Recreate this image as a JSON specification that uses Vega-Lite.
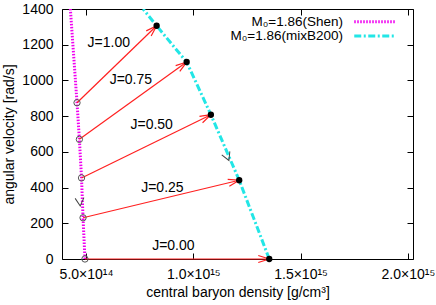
{
  "$schema": "https://vega.github.io/schema/vega-lite/v6.json",
  "width": 351,
  "height": 250,
  "autosize": {"type": "none"},
  "padding": {"left": 62, "top": 9, "right": 23, "bottom": 46},
  "config": {
    "font": "Liberation Sans",
    "view": {"stroke": "black", "strokeWidth": 1},
    "axis": {
      "labelFont": "Liberation Sans", "titleFont": "Liberation Sans",
      "labelFontSize": 14, "titleFontSize": 14, "titleFontWeight": "normal",
      "labelColor": "black", "titleColor": "black", "tickColor": "black",
      "domain": false, "grid": false, "tickSize": -6, "tickWidth": 1
    }
  },
  "datasets": {
    "curves": [
      {"series": "Shen", "o": 0, "x": 4.95e14, "y": 0},
      {"series": "Shen", "o": 1, "x": 4.86e14, "y": 231},
      {"series": "Shen", "o": 2, "x": 4.79e14, "y": 454},
      {"series": "Shen", "o": 3, "x": 4.69e14, "y": 670},
      {"series": "Shen", "o": 4, "x": 4.58e14, "y": 875},
      {"series": "Shen", "o": 5, "x": 4.27e14, "y": 1400},
      {"series": "mixB200", "o": 0, "x": 1.354e15, "y": 0},
      {"series": "mixB200", "o": 1, "x": 1.214e15, "y": 441},
      {"series": "mixB200", "o": 2, "x": 1.082e15, "y": 808},
      {"series": "mixB200", "o": 3, "x": 9.69e14, "y": 1103},
      {"series": "mixB200", "o": 4, "x": 8.29e14, "y": 1306},
      {"series": "mixB200", "o": 5, "x": 7.66e14, "y": 1400}
    ],
    "arrows": [
      {"J": "1.00", "x": 4.58e14, "y": 875, "x2": 8.29e14, "y2": 1306},
      {"J": "0.75", "x": 4.69e14, "y": 670, "x2": 9.69e14, "y2": 1103},
      {"J": "0.50", "x": 4.79e14, "y": 454, "x2": 1.082e15, "y2": 808},
      {"J": "0.25", "x": 4.86e14, "y": 231, "x2": 1.214e15, "y2": 441},
      {"J": "0.00", "x": 4.95e14, "y": 0, "x2": 1.354e15, "y2": 0}
    ],
    "labels": [
      {"text": "J=1.00", "x": 6.06e14, "y": 1210},
      {"text": "J=0.75", "x": 7.09e14, "y": 1002},
      {"text": "J=0.50", "x": 8.06e14, "y": 750},
      {"text": "J=0.25", "x": 8.56e14, "y": 396},
      {"text": "J=0.00", "x": 9.07e14, "y": 75}
    ],
    "chevrons": [
      {"series": "Shen", "x": 4.73e14, "y": 297},
      {"series": "mixB200", "x": 1.166e15, "y": 552}
    ],
    "legend": [
      {"series": "Shen", "label": "M₀=1.86(Shen)", "tx": 1.6975e15, "x": 1.7502e15, "x2": 1.941e15, "y": 1329},
      {"series": "mixB200", "label": "M₀=1.86(mixB200)", "tx": 1.6975e15, "x": 1.7502e15, "x2": 1.941e15, "y": 1249}
    ]
  },
  "layer": [
    {
      "data": {"name": "curves"},
      "mark": {"type": "line", "strokeWidth": 3, "clip": true},
      "encoding": {
        "x": {"field": "x", "type": "quantitative",
          "scale": {"domain": [3.88e14, 2.024e15], "nice": false, "zero": false},
          "axis": {"orient": "bottom", "title": "central baryon density [g/cm³]", "values": [5e14, 1e15, 1.5e15, 2e15],
            "labelExpr": "datum.value < 7e14 ? '5.0×10¹⁴' : datum.value < 1.2e15 ? '1.0×10¹⁵' : datum.value < 1.7e15 ? '1.5×10¹⁵' : '2.0×10¹⁵'",
            "labelPadding": 14, "titlePadding": 4, "labelFlush": false}},
        "y": {"field": "y", "type": "quantitative",
          "scale": {"domain": [0, 1400], "nice": false},
          "axis": {"orient": "left", "title": "angular velocity [rad/s]", "values": [0, 200, 400, 600, 800, 1000, 1200, 1400],
            "format": "d", "labelPadding": 15, "titlePadding": 5}},
        "color": {"field": "series", "type": "nominal", "scale": {"domain": ["Shen", "mixB200"], "range": ["#f000f0", "#22e6e6"]}, "legend": null},
        "strokeDash": {"field": "series", "type": "nominal", "scale": {"domain": ["Shen", "mixB200"], "range": [[1.5, 1.5], [7, 2.5, 2, 2.5]]}, "legend": null},
        "order": {"field": "o", "type": "quantitative"}
      }
    },
    {
      "data": {"name": "arrows"},
      "mark": {"type": "rule", "color": "#ff2020", "strokeWidth": 1.2},
      "encoding": {
        "x": {"field": "x", "type": "quantitative", "scale": {"domain": [3.88e14, 2.024e15], "nice": false, "zero": false}, "axis": null},
        "y": {"field": "y", "type": "quantitative", "scale": {"domain": [0, 1400], "nice": false}, "axis": null},
        "x2": {"field": "x2"},
        "y2": {"field": "y2"}
      }
    },
    {
      "data": {"name": "arrows"},
      "transform": [
        {"calculate": "-atan2((datum.y2 - datum.y) * 250 / 1400, (datum.x2 - datum.x) * 351 / 1.636e15) * 180 / PI", "as": "ang"}
      ],
      "mark": {"type": "point", "shape": "M -1 -0.32 L 0 0 L -1 0.32", "filled": false, "stroke": "#ff2020", "strokeWidth": 1.2, "size": 484, "opacity": 1},
      "encoding": {
        "x": {"field": "x2", "type": "quantitative", "scale": {"domain": [3.88e14, 2.024e15], "nice": false, "zero": false}, "axis": null},
        "y": {"field": "y2", "type": "quantitative", "scale": {"domain": [0, 1400], "nice": false}, "axis": null},
        "angle": {"field": "ang", "type": "quantitative", "scale": null}
      }
    },
    {
      "data": {"name": "arrows"},
      "mark": {"type": "point", "filled": false, "stroke": "#555555", "strokeWidth": 1, "size": 40, "opacity": 1},
      "encoding": {
        "x": {"field": "x", "type": "quantitative", "scale": {"domain": [3.88e14, 2.024e15], "nice": false, "zero": false},
          "axis": {"orient": "top", "labels": false, "title": null, "values": [5e14, 1e15, 1.5e15, 2e15]}},
        "y": {"field": "y", "type": "quantitative", "scale": {"domain": [0, 1400], "nice": false},
          "axis": {"orient": "right", "labels": false, "title": null, "values": [0, 200, 400, 600, 800, 1000, 1200, 1400]}}
      }
    },
    {
      "data": {"name": "arrows"},
      "mark": {"type": "point", "filled": true, "color": "black", "size": 40, "opacity": 1},
      "encoding": {
        "x": {"field": "x2", "type": "quantitative", "scale": {"domain": [3.88e14, 2.024e15], "nice": false, "zero": false}, "axis": null},
        "y": {"field": "y2", "type": "quantitative", "scale": {"domain": [0, 1400], "nice": false}, "axis": null}
      }
    },
    {
      "data": {"name": "chevrons"},
      "transform": [{"filter": "datum.series == 'Shen'"}],
      "mark": {"type": "point", "shape": "M -0.55 -1 L 0 0 L 0.55 -1", "filled": false, "stroke": "#444444", "strokeWidth": 1, "size": 256, "angle": -5, "opacity": 1},
      "encoding": {
        "x": {"field": "x", "type": "quantitative", "scale": {"domain": [3.88e14, 2.024e15], "nice": false, "zero": false}, "axis": null},
        "y": {"field": "y", "type": "quantitative", "scale": {"domain": [0, 1400], "nice": false}, "axis": null}
      }
    },
    {
      "data": {"name": "chevrons"},
      "transform": [{"filter": "datum.series == 'mixB200'"}],
      "mark": {"type": "point", "shape": "M -0.55 -1 L 0 0 L 0.55 -1", "filled": false, "stroke": "#444444", "strokeWidth": 1, "size": 256, "angle": -23, "opacity": 1},
      "encoding": {
        "x": {"field": "x", "type": "quantitative", "scale": {"domain": [3.88e14, 2.024e15], "nice": false, "zero": false}, "axis": null},
        "y": {"field": "y", "type": "quantitative", "scale": {"domain": [0, 1400], "nice": false}, "axis": null}
      }
    },
    {
      "data": {"name": "labels"},
      "mark": {"type": "text", "fontSize": 14, "font": "Liberation Sans", "color": "black", "align": "center", "baseline": "middle"},
      "encoding": {
        "x": {"field": "x", "type": "quantitative", "scale": {"domain": [3.88e14, 2.024e15], "nice": false, "zero": false}, "axis": null},
        "y": {"field": "y", "type": "quantitative", "scale": {"domain": [0, 1400], "nice": false}, "axis": null},
        "text": {"field": "text"}
      }
    },
    {
      "data": {"name": "legend"},
      "mark": {"type": "rule", "strokeWidth": 3},
      "encoding": {
        "x": {"field": "x", "type": "quantitative", "scale": {"domain": [3.88e14, 2.024e15], "nice": false, "zero": false}, "axis": null},
        "x2": {"field": "x2"},
        "y": {"field": "y", "type": "quantitative", "scale": {"domain": [0, 1400], "nice": false}, "axis": null},
        "color": {"field": "series", "type": "nominal", "scale": {"domain": ["Shen", "mixB200"], "range": ["#f000f0", "#22e6e6"]}, "legend": null},
        "strokeDash": {"field": "series", "type": "nominal", "scale": {"domain": ["Shen", "mixB200"], "range": [[1.5, 1.5], [7, 2.5, 2, 2.5]]}, "legend": null}
      }
    },
    {
      "data": {"name": "legend"},
      "mark": {"type": "text", "fontSize": 13.5, "font": "Liberation Sans", "color": "black", "align": "right", "baseline": "middle"},
      "encoding": {
        "x": {"field": "tx", "type": "quantitative", "scale": {"domain": [3.88e14, 2.024e15], "nice": false, "zero": false}, "axis": null},
        "y": {"field": "y", "type": "quantitative", "scale": {"domain": [0, 1400], "nice": false}, "axis": null},
        "text": {"field": "label"}
      }
    }
  ],
  "resolve": {"axis": {"x": "independent", "y": "independent"}}
}
